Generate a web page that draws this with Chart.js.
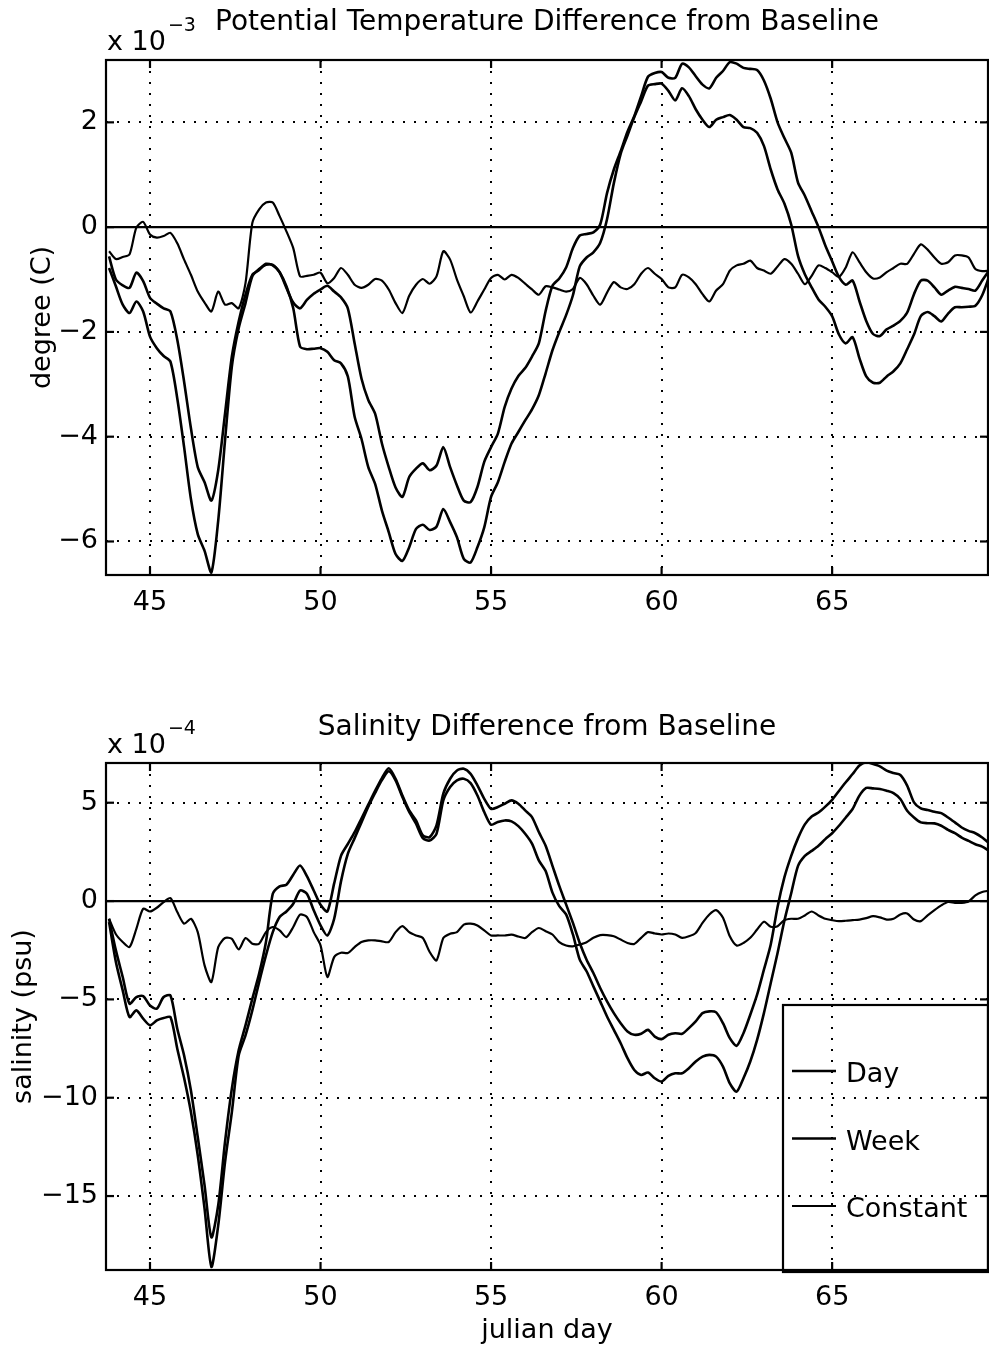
<!DOCTYPE html>
<html>
<head>
<meta charset="utf-8">
<script src="https://cdn.jsdelivr.net/npm/chart.js@4.4.1/dist/chart.umd.min.js"></script>
<style>
  html, body { margin: 0; padding: 0; background: #fff; }
  #wrap { position: relative; width: 989px; height: 1351px; }
  #tempChart { position: absolute; left: 0; top: 0; }
  #saltChart { position: absolute; left: 0; top: 680px; }
</style>
</head>
<body>
<div id="wrap">
  <canvas id="tempChart" width="989" height="640"></canvas>
  <canvas id="saltChart" width="989" height="671"></canvas>
</div>
<script>
// julian day of every sample (0.2 day spacing)
const days = [
  43.8, 44.0, 44.2, 44.4, 44.6, 44.8, 45.0, 45.2, 45.4, 45.6,
  45.8, 46.0, 46.2, 46.4, 46.6, 46.8, 47.0, 47.2, 47.4, 47.6,
  47.8, 48.0, 48.2, 48.4, 48.6, 48.8, 49.0, 49.2, 49.4, 49.6,
  49.8, 50.0, 50.2, 50.4, 50.6, 50.8, 51.0, 51.2, 51.4, 51.6,
  51.8, 52.0, 52.2, 52.4, 52.6, 52.8, 53.0, 53.2, 53.4, 53.6,
  53.8, 54.0, 54.2, 54.4, 54.6, 54.8, 55.0, 55.2, 55.4, 55.6,
  55.8, 56.0, 56.2, 56.4, 56.6, 56.8, 57.0, 57.2, 57.4, 57.6,
  57.8, 58.0, 58.2, 58.4, 58.6, 58.8, 59.0, 59.2, 59.4, 59.6,
  59.8, 60.0, 60.2, 60.4, 60.6, 60.8, 61.0, 61.2, 61.4, 61.6,
  61.8, 62.0, 62.2, 62.4, 62.6, 62.8, 63.0, 63.2, 63.4, 63.6,
  63.8, 64.0, 64.2, 64.4, 64.6, 64.8, 65.0, 65.2, 65.4, 65.6,
  65.8, 66.0, 66.2, 66.4, 66.6, 66.8, 67.0, 67.2, 67.4, 67.6,
  67.8, 68.0, 68.2, 68.4, 68.6, 68.8, 69.0, 69.2, 69.4, 69.6
];

// potential temperature difference, x 10^-3 degC
const tempDay = [
  -0.56, -1.00, -1.11, -1.16, -0.87, -1.03, -1.35, -1.46, -1.55, -1.61,
  -2.15, -2.95, -3.84, -4.58, -4.87, -5.22, -4.64, -3.56, -2.47, -1.80,
  -1.29, -0.91, -0.82, -0.70, -0.73, -0.86, -1.16, -1.44, -1.55, -1.39,
  -1.27, -1.19, -1.12, -1.23, -1.34, -1.55, -2.22, -2.89, -3.30, -3.56,
  -4.13, -4.58, -4.97, -5.15, -4.77, -4.61, -4.51, -4.64, -4.55, -4.20,
  -4.58, -4.93, -5.22, -5.25, -4.96, -4.48, -4.20, -3.94, -3.43, -3.08,
  -2.84, -2.69, -2.47, -2.22, -1.60, -1.12, -0.98, -0.77, -0.40, -0.16,
  -0.13, -0.10, 0.05, 0.65, 1.10, 1.45, 1.82, 2.12, 2.50, 2.87,
  2.94, 2.96, 2.85, 2.85, 3.12, 3.05, 2.88, 2.72, 2.65, 2.85,
  2.98, 3.15, 3.12, 3.04, 3.02, 3.00, 2.80, 2.45, 2.00, 1.70,
  1.42, 0.85, 0.60, 0.30, 0.00, -0.35, -0.65, -0.95, -1.10, -1.02,
  -1.41, -1.79, -2.04, -2.08, -1.95, -1.88, -1.79, -1.63, -1.28, -1.02,
  -1.02, -1.15, -1.29, -1.21, -1.14, -1.16, -1.18, -1.21, -1.02, -0.83
];
const tempWeek = [
  -0.78, -1.13, -1.48, -1.64, -1.42, -1.61, -2.09, -2.31, -2.46, -2.57,
  -3.27, -4.20, -5.19, -5.86, -6.18, -6.59, -5.60, -4.07, -2.66, -1.93,
  -1.45, -0.94, -0.80, -0.72, -0.72, -0.86, -1.13, -1.55, -2.28, -2.33,
  -2.32, -2.31, -2.38, -2.54, -2.60, -2.85, -3.62, -4.04, -4.58, -4.90,
  -5.41, -5.82, -6.24, -6.37, -6.11, -5.76, -5.68, -5.78, -5.72, -5.38,
  -5.63, -5.92, -6.33, -6.40, -6.11, -5.73, -5.15, -4.87, -4.48, -4.13,
  -3.91, -3.69, -3.48, -3.21, -2.79, -2.35, -2.00, -1.68, -1.30, -0.75,
  -0.58, -0.48, -0.30, 0.15, 0.84, 1.40, 1.75, 2.10, 2.40, 2.70,
  2.73, 2.74, 2.60, 2.42, 2.65, 2.50, 2.25, 2.05, 1.91, 2.05,
  2.10, 2.14, 2.05, 1.91, 1.89, 1.80, 1.55, 1.10, 0.72, 0.45,
  0.05, -0.55, -0.90, -1.15, -1.38, -1.52, -1.70, -2.05, -2.22, -2.10,
  -2.50, -2.85, -2.97, -2.97, -2.85, -2.75, -2.60, -2.33, -2.05, -1.70,
  -1.62, -1.70, -1.80, -1.65, -1.53, -1.53, -1.52, -1.50, -1.30, -0.95
];
const tempConst = [
  -0.46, -0.61, -0.57, -0.52, -0.01, 0.10, -0.14, -0.20, -0.17, -0.11,
  -0.31, -0.62, -0.91, -1.23, -1.44, -1.61, -1.23, -1.48, -1.45, -1.55,
  -1.07, 0.08, 0.34, 0.47, 0.47, 0.21, -0.08, -0.40, -0.94, -0.93,
  -0.91, -0.87, -1.07, -0.97, -0.78, -0.91, -1.10, -1.16, -1.10, -0.99,
  -1.02, -1.19, -1.45, -1.64, -1.31, -1.10, -0.99, -1.08, -0.94, -0.46,
  -0.62, -1.00, -1.32, -1.63, -1.42, -1.19, -0.97, -0.91, -1.00, -0.91,
  -0.97, -1.08, -1.19, -1.29, -1.13, -1.15, -1.19, -1.23, -1.18, -0.97,
  -1.09, -1.31, -1.48, -1.25, -1.05, -1.15, -1.18, -1.09, -0.89, -0.78,
  -0.89, -0.99, -1.15, -1.15, -0.91, -0.96, -1.09, -1.28, -1.42, -1.21,
  -1.09, -0.83, -0.73, -0.70, -0.64, -0.78, -0.83, -0.89, -0.75, -0.61,
  -0.70, -0.89, -1.09, -0.93, -0.73, -0.78, -0.86, -0.95, -0.77, -0.48,
  -0.67, -0.86, -0.98, -0.96, -0.86, -0.78, -0.70, -0.70, -0.51, -0.33,
  -0.43, -0.58, -0.70, -0.67, -0.54, -0.54, -0.58, -0.80, -0.84, -0.83
];

// salinity difference, x 10^-4 psu
const saltDay = [
  -0.90, -2.51, -3.86, -5.22, -4.88, -4.83, -5.31, -5.47, -4.88, -4.80,
  -6.49, -7.85, -9.63, -12.00, -14.46, -17.10, -15.47, -12.25, -9.54, -7.59,
  -6.32, -4.97, -3.69, -2.08, 0.37, 0.75, 0.83, 1.34, 1.81, 1.27,
  0.54, -0.19, -0.53, 0.90, 2.30, 2.90, 3.50, 4.20, 4.90, 5.60,
  6.25, 6.75, 6.22, 5.37, 4.61, 4.10, 3.34, 3.25, 3.85, 5.46,
  6.22, 6.64, 6.73, 6.47, 5.88, 5.20, 4.69, 4.78, 4.95, 5.12,
  4.95, 4.61, 4.27, 3.51, 2.81, 1.79, 0.77, -0.17, -1.11, -2.13,
  -2.98, -3.66, -4.42, -5.10, -5.70, -6.21, -6.63, -6.80, -6.75, -6.55,
  -6.89, -7.02, -6.80, -6.72, -6.75, -6.46, -6.12, -5.70, -5.61, -5.66,
  -6.21, -6.97, -7.36, -6.72, -5.78, -4.76, -3.49, -2.21, -0.30, 1.20,
  2.30, 3.20, 3.90, 4.30, 4.50, 4.80, 5.15, 5.60, 6.04, 6.46,
  6.89, 7.06, 6.97, 6.85, 6.63, 6.51, 6.41, 5.87, 5.02, 4.71,
  4.63, 4.54, 4.47, 4.25, 4.00, 3.74, 3.57, 3.45, 3.23, 2.94
];
const saltWeek = [
  -1.07, -3.10, -4.54, -5.90, -5.56, -5.98, -6.32, -6.07, -5.95, -5.90,
  -7.51, -9.00, -10.73, -12.93, -15.64, -18.60, -16.49, -13.27, -10.73, -7.85,
  -6.83, -5.56, -4.12, -2.76, -1.58, -0.81, -0.53, -0.14, 0.54, 0.37,
  -0.47, -1.24, -1.75, -0.90, 1.00, 2.40, 3.20, 4.00, 4.80, 5.50,
  6.15, 6.60, 6.14, 5.29, 4.53, 3.93, 3.20, 3.08, 3.42, 5.12,
  5.80, 6.14, 6.22, 6.00, 5.37, 4.53, 3.88, 4.02, 4.10, 4.05,
  3.81, 3.42, 2.92, 2.07, 1.53, 0.43, -0.26, -0.68, -1.70, -2.98,
  -3.57, -4.34, -5.10, -5.87, -6.55, -7.23, -7.99, -8.59, -8.84, -8.72,
  -9.01, -9.18, -8.89, -8.76, -8.76, -8.50, -8.16, -7.91, -7.82, -7.91,
  -8.42, -9.27, -9.69, -9.01, -8.16, -7.06, -5.70, -4.17, -2.64, -1.00,
  0.40, 1.79, 2.30, 2.55, 2.81, 3.15, 3.45, 3.83, 4.25, 4.68,
  5.36, 5.75, 5.73, 5.70, 5.61, 5.49, 5.19, 4.59, 4.25, 4.00,
  3.96, 3.95, 3.83, 3.62, 3.45, 3.23, 3.06, 2.89, 2.77, 2.55
];
const saltConst = [
  -0.90, -1.69, -2.08, -2.34, -1.41, -0.39, -0.53, -0.34, -0.05, 0.15,
  -0.56, -1.15, -0.90, -1.58, -3.27, -4.12, -2.34, -1.88, -1.92, -2.46,
  -1.88, -2.17, -2.17, -1.58, -1.32, -1.49, -1.83, -1.32, -0.69, -0.81,
  -1.58, -2.25, -3.86, -2.85, -2.63, -2.64, -2.34, -2.08, -2.00, -2.00,
  -2.05, -2.08, -1.58, -1.27, -1.58, -1.75, -1.88, -2.59, -3.02, -1.88,
  -1.66, -1.58, -1.20, -1.15, -1.24, -1.49, -1.75, -1.75, -1.75, -1.71,
  -1.80, -1.88, -1.58, -1.37, -1.53, -1.70, -2.09, -2.26, -2.30, -2.21,
  -2.09, -1.87, -1.73, -1.73, -1.79, -1.96, -2.13, -2.18, -1.87, -1.58,
  -1.65, -1.70, -1.65, -1.70, -1.87, -1.79, -1.62, -1.11, -0.68, -0.46,
  -0.85, -1.79, -2.26, -2.13, -1.87, -1.45, -1.05, -1.31, -1.28, -0.97,
  -0.90, -0.90, -0.73, -0.53, -0.73, -0.90, -0.97, -1.02, -1.00, -0.97,
  -0.94, -0.87, -0.77, -0.83, -0.94, -0.90, -0.68, -0.63, -0.94, -1.02,
  -0.73, -0.46, -0.22, -0.05, -0.09, -0.09, -0.02, 0.29, 0.46, 0.53
];

const seriesNames = ['Day', 'Week', 'Constant'];
const dayTicks = [45, 50, 55, 60, 65];
const tempTicks = [-6, -4, -2, 0, 2];
const saltTicks = [-15, -10, -5, 0, 5];

const FONT = "'DejaVu Sans', 'Liberation Sans', Arial, sans-serif";
Chart.defaults.font.family = FONT;
Chart.defaults.color = '#000';

function line(ctx, x1, y1, x2, y2) {
  ctx.beginPath(); ctx.moveTo(x1, y1); ctx.lineTo(x2, y2); ctx.stroke();
}

// box, zero line, inward ticks, exponent label and the boxed legend
const framePlugin = {
  id: 'frame',
  afterDatasetsDraw(chart, args, opts) {
    const { ctx, chartArea: a, scales: { x, y } } = chart;
    ctx.save();
    ctx.strokeStyle = '#000';
    ctx.lineWidth = 2.2;
    const y0 = y.getPixelForValue(0);
    line(ctx, a.left, y0, a.right, y0);
    ctx.strokeRect(a.left, a.top, a.right - a.left, a.bottom - a.top);
    x.ticks.forEach(t => {
      const px = x.getPixelForValue(t.value);
      line(ctx, px, a.bottom, px, a.bottom - 8);
      line(ctx, px, a.top, px, a.top + 8);
    });
    y.ticks.forEach(t => {
      const py = y.getPixelForValue(t.value);
      line(ctx, a.left, py, a.left + 8, py);
      line(ctx, a.right, py, a.right - 8, py);
    });

    ctx.fillStyle = '#000';
    ctx.textAlign = 'left';
    ctx.textBaseline = 'alphabetic';
    ctx.font = '27px ' + FONT;
    ctx.fillText('x 10', a.left + 1, a.top - 10);
    const w = ctx.measureText('x 10').width;
    ctx.font = '19px ' + FONT;
    ctx.fillText(opts.exponent, a.left + w + 3, a.top - 29);

    if (opts.legend) {
      const bw = 205, bh = 267;
      const bx = a.right - bw, by = a.bottom - bh + 2;
      ctx.lineWidth = 2.2;
      ctx.strokeRect(bx, by, bw, bh);
      ctx.font = '27px ' + FONT;
      chart.data.datasets.forEach((ds, i) => {
        const cy = by + 66 + 67.5 * i;
        ctx.lineWidth = ds.borderWidth;
        line(ctx, bx + 9, cy, bx + 53, cy);
        ctx.fillText(ds.label, bx + 63, cy + 11);
      });
    }
    ctx.restore();
  }
};

function series(values, label, width) {
  return {
    label: label,
    data: values.map((v, i) => ({ x: days[i], y: v })),
    borderColor: '#000',
    borderWidth: width,
    pointRadius: 0,
    tension: 0.25,
    fill: false
  };
}

function minusSign(v) {
  return v < 0 ? '\u2212' + Math.abs(v) : String(v);
}

function makeChart(id, cfg) {
  const gridOpts = { color: '#000', lineWidth: 2, drawTicks: false };
  const borderOpts = { display: false, dash: [2, 9] };
  return new Chart(document.getElementById(id), {
    type: 'line',
    data: {
      datasets: [
        series(cfg.day, seriesNames[0], 2.6),
        series(cfg.week, seriesNames[1], 2.6),
        series(cfg.constant, seriesNames[2], 2.2)
      ]
    },
    plugins: [framePlugin],
    options: {
      responsive: false,
      devicePixelRatio: 1,
      animation: false,
      layout: { padding: cfg.padding },
      plugins: {
        legend: { display: false },
        tooltip: { enabled: false },
        title: {
          display: true,
          text: cfg.title,
          fullSize: false,
          color: '#000',
          font: { size: 28, weight: 'normal', lineHeight: 1.2 },
          padding: { top: 0, bottom: cfg.titleGap }
        },
        frame: { exponent: cfg.exponent, legend: cfg.legend }
      },
      scales: {
        x: {
          type: 'linear',
          min: 43.71,
          max: 69.57,
          afterBuildTicks: s => { s.ticks = dayTicks.map(v => ({ value: v })); },
          afterFit: s => { s.height = cfg.xHeight; },
          ticks: { font: { size: 27 }, color: '#000', padding: 12, maxRotation: 0, autoSkip: false },
          title: {
            display: !!cfg.xTitle,
            text: cfg.xTitle || '',
            color: '#000',
            font: { size: 27 },
            padding: { top: 0, bottom: 4 }
          },
          grid: gridOpts,
          border: borderOpts
        },
        y: {
          min: cfg.yMin,
          max: cfg.yMax,
          afterBuildTicks: s => { s.ticks = cfg.yTicks.map(v => ({ value: v })); },
          afterFit: s => { s.width = cfg.yWidth; },
          ticks: { font: { size: 27 }, color: '#000', padding: 8, callback: minusSign },
          title: {
            display: true,
            text: cfg.yTitle,
            color: '#000',
            font: { size: 27 },
            padding: 0
          },
          grid: gridOpts,
          border: borderOpts
        }
      }
    }
  });
}

makeChart('tempChart', {
  day: tempDay, week: tempWeek, constant: tempConst,
  title: 'Potential Temperature Difference from Baseline',
  titleGap: 20.4,
  padding: { top: 6, left: 27, right: 1, bottom: 0 },
  exponent: '\u22123',
  legend: false,
  xHeight: 65,
  yWidth: 79,
  yMin: -6.64, yMax: 3.19,
  yTicks: tempTicks,
  yTitle: 'degree (C)'
});

makeChart('saltChart', {
  day: saltDay, week: saltWeek, constant: saltConst,
  title: 'Salinity Difference from Baseline',
  titleGap: 18.4,
  padding: { top: 31, left: 8, right: 1, bottom: 0 },
  exponent: '\u22124',
  legend: true,
  xHeight: 81,
  xTitle: 'julian day',
  yWidth: 98,
  yMin: -18.76, yMax: 7.02,
  yTicks: saltTicks,
  yTitle: 'salinity (psu)'
});
</script>
</body>
</html>
